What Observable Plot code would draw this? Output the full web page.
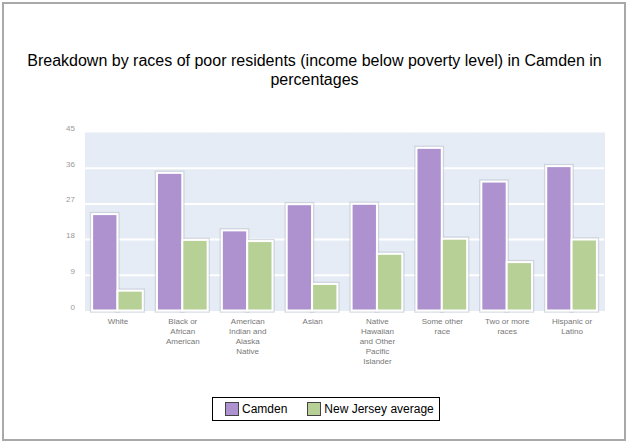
<!DOCTYPE html>
<html>
<head>
<meta charset="utf-8">
<script src="https://cdn.jsdelivr.net/npm/d3@7"></script>
<script src="https://cdn.jsdelivr.net/npm/@observablehq/plot@0.6"></script>
<style>
  html, body { margin: 0; padding: 0; background: #fff; }
  body { width: 629px; height: 445px; position: relative; overflow: hidden; font-family: "Liberation Sans", Arial, sans-serif; }
  #frame { position: absolute; left: 2px; top: 2px; width: 624px; height: 439px; box-sizing: border-box; border: 2.5px solid #a9a9a9; }
  #title { position: absolute; left: 4px; width: 621px; top: 50.5px; text-align: center; font-size: 16px; line-height: 19px; color: #000; }
  #chart { position: absolute; left: 0; top: 100px; }
  #legend { position: absolute; left: 211.5px; top: 397.3px; width: 228px; height: 23.4px; box-sizing: border-box; border: 1px solid #000; display: flex; align-items: center; padding-left: 12.5px; font-size: 12px; color: #000; }
  #legend .item { display: flex; align-items: center; }
  #legend .sw { width: 14px; height: 14px; box-sizing: border-box; border: 1px solid #444; margin-right: 3px; }
  #legend .item + .item { margin-left: 20px; }
</style>
</head>
<body>
<div id="frame"></div>
<div id="title">Breakdown by races of poor residents (income below poverty level) in Camden in percentages</div>
<div id="chart"></div>
<div id="legend"></div>
<script>
const races = [
  "White",
  "Black or\nAfrican\nAmerican",
  "American\nIndian and\nAlaska\nNative",
  "Asian",
  "Native\nHawaiian\nand Other\nPacific\nIslander",
  "Some other\nrace",
  "Two or more\nraces",
  "Hispanic or\nLatino"
];
const series = ["Camden", "New Jersey average"];
const camden = [24.3, 34.7, 20.2, 26.8, 26.9, 41.0, 32.5, 36.4];
const newJersey = [5.0, 17.8, 17.5, 6.7, 14.3, 18.1, 12.2, 17.9];
const colors = ["#ae92d0", "#b7d096"];
const yTicks = [0, 9, 18, 27, 36, 45];
const gridTicks = [9, 18, 27, 36];

const data = [];
races.forEach((r, i) => {
  data.push({race: r, series: series[0], value: camden[i]});
  data.push({race: r, series: series[1], value: newJersey[i]});
});

const chart = Plot.plot({
  width: 629,
  height: 290,
  marginTop: 32,
  marginBottom: 79.5,
  marginLeft: 85,
  marginRight: 25,
  style: {fontFamily: "Liberation Sans, Arial, sans-serif", background: "transparent"},
  fx: {domain: races, padding: 0, round: false},
  x: {domain: series, paddingInner: 0, paddingOuter: 0.28, round: false, axis: null},
  y: {domain: [0, 45]},
  color: {domain: series, range: colors},
  marks: [
    Plot.frame({fill: "#e6ecf5", stroke: null, insetLeft: -0.5, insetRight: -0.5}),
    Plot.gridY(gridTicks, {stroke: "white", strokeOpacity: 1, strokeWidth: 2}),
    Plot.barY(data, {fx: "race", x: "series", y: "value", fill: "none", stroke: "#b9bfca", strokeWidth: 4.5, strokeOpacity: 0.55}),
    Plot.barY(data, {fx: "race", x: "series", y: "value", fill: "series", stroke: "white", strokeWidth: 2}),
    Plot.axisY({ticks: yTicks, tickSize: 0, tickPadding: 10.5, dy: -4, fontSize: 8, color: "#999", label: null}),
    Plot.axisFx({anchor: "bottom", tickSize: 0, tickPadding: 6, fontSize: 8, lineHeight: 1.25, color: "#777", label: null})
  ]
});
document.getElementById("chart").appendChild(chart);

const legend = document.getElementById("legend");
series.forEach((s, i) => {
  const item = document.createElement("div");
  item.className = "item";
  const sw = document.createElement("div");
  sw.className = "sw";
  sw.style.background = colors[i];
  const label = document.createElement("span");
  label.textContent = s;
  item.appendChild(sw);
  item.appendChild(label);
  legend.appendChild(item);
});
</script>
</body>
</html>
